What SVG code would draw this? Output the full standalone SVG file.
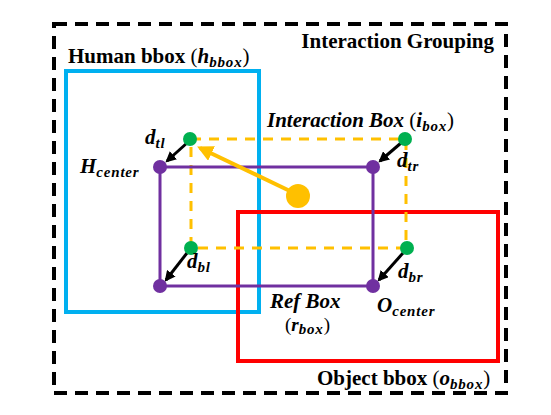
<svg xmlns="http://www.w3.org/2000/svg" width="551" height="415" viewBox="0 0 551 415">
<defs>
<style>
.t{font-family:"Liberation Serif","Times New Roman",serif;font-weight:bold;fill:#000}
.it{font-style:italic}
.sub{font-size:15px;font-style:italic;letter-spacing:0.8px}
.yel{stroke:#FFC000;stroke-width:3;fill:none;stroke-dasharray:10 8}
.pur{stroke:#7030A0;stroke-width:3;fill:none}
.blk{stroke:#000;stroke-width:3;fill:none}
</style>
<marker id="ah" viewBox="0 0 10 10" refX="8" refY="5" markerWidth="3.6" markerHeight="3.6" orient="auto" markerUnits="strokeWidth"><path d="M0,0 L10,5 L0,10 z" fill="#000"/></marker>
<marker id="ay" viewBox="0 0 10 10" refX="8" refY="5" markerWidth="4" markerHeight="4" orient="auto" markerUnits="strokeWidth"><path d="M0,0 L10,5 L0,10 z" fill="#FFC000"/></marker>
</defs>
<rect width="551" height="415" fill="#fff"/>
<g id="interaction-grouping">
<rect x="54" y="24" width="452" height="369" fill="none" stroke="#000" stroke-width="4" stroke-dasharray="13 8"/>
<text class="t" x="494" y="48" font-size="21" text-anchor="end">Interaction Grouping</text>
</g>
<g id="human-bbox">
<rect x="66" y="71" width="193" height="241" fill="none" stroke="#00B0F0" stroke-width="4"/>
<text class="t" x="68" y="63" font-size="21">Human bbox <tspan font-weight="normal">(</tspan><tspan class="it">h</tspan><tspan class="sub" dy="4">bbox</tspan><tspan font-weight="normal" dy="-4">)</tspan></text>
</g>
<g id="object-bbox">
<rect x="238" y="212" width="260" height="149" fill="none" stroke="#FF0000" stroke-width="4"/>
<text class="t" x="317" y="385" font-size="21">Object bbox <tspan font-weight="normal">(</tspan><tspan class="it">o</tspan><tspan class="sub" dy="4">bbox</tspan><tspan font-weight="normal" dy="-4">)</tspan></text>
</g>
<g id="interaction-box">
<rect class="yel" x="191" y="139" width="215" height="109"/>
<text class="t it" x="267" y="127" font-size="21">Interaction Box <tspan font-style="normal" font-weight="normal">(</tspan><tspan>i</tspan><tspan class="sub" dy="4">box</tspan><tspan font-style="normal" font-weight="normal" dy="-4">)</tspan></text>
</g>
<g id="ref-box">
<rect class="pur" x="160" y="167" width="213" height="119"/>
<text class="t it" x="270" y="308" font-size="21">Ref Box</text>
<text class="t" x="285" y="331" font-size="19"><tspan font-weight="normal">(</tspan><tspan class="it">r</tspan><tspan class="sub" dy="3">box</tspan><tspan font-weight="normal" dy="-3">)</tspan></text>
</g>
<g id="connectors">
<line x1="187" y1="143" x2="167" y2="161" class="blk" marker-end="url(#ah)"/>
<line x1="401" y1="143" x2="380" y2="161" class="blk" marker-end="url(#ah)"/>
<line x1="187" y1="253" x2="166" y2="280" class="blk" marker-end="url(#ah)"/>
<line x1="403" y1="253" x2="379" y2="280" class="blk" marker-end="url(#ah)"/>
<line x1="292" y1="192" x2="200" y2="148" stroke="#FFC000" stroke-width="4" marker-end="url(#ay)"/>
</g>
<g id="group-center">
<circle cx="298" cy="196" r="12" fill="#FFC000"/>
</g>
<g id="h-center">
<circle cx="160" cy="167" r="7" fill="#7030A0"/>
<text class="t it" x="80" y="173" font-size="21">H<tspan class="sub" dy="4">center</tspan></text>
</g>
<g id="ref-tr"><circle cx="373" cy="167" r="7" fill="#7030A0"/></g>
<g id="ref-bl"><circle cx="160" cy="286" r="7" fill="#7030A0"/></g>
<g id="o-center">
<circle cx="373" cy="286" r="7" fill="#7030A0"/>
<text class="t it" x="377" y="312" font-size="21">O<tspan class="sub" dy="4">center</tspan></text>
</g>
<g id="d-tl">
<circle cx="190" cy="139" r="7" fill="#00B050"/>
<text class="t it" x="145" y="144" font-size="21">d<tspan class="sub" dy="4">tl</tspan></text>
</g>
<g id="d-tr">
<circle cx="405" cy="139" r="7" fill="#00B050"/>
<text class="t it" x="397" y="167" font-size="21">d<tspan class="sub" dy="4">tr</tspan></text>
</g>
<g id="d-bl">
<circle cx="191" cy="248" r="7" fill="#00B050"/>
<text class="t it" x="187" y="268" font-size="21">d<tspan class="sub" dy="4">bl</tspan></text>
</g>
<g id="d-br">
<circle cx="407" cy="248" r="7" fill="#00B050"/>
<text class="t it" x="398" y="278" font-size="21">d<tspan class="sub" dy="4">br</tspan></text>
</g>
</svg>
